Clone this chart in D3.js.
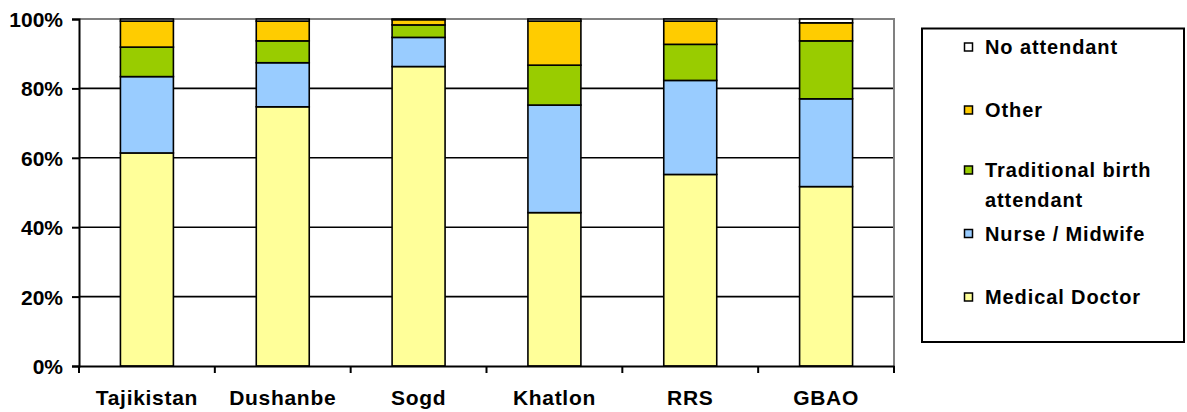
<!DOCTYPE html>
<html>
<head>
<meta charset="utf-8">
<script src="https://cdn.jsdelivr.net/npm/d3@7"></script>
<style>
  html, body { margin: 0; padding: 0; background: #fff; }
  svg { display: block; }
  text { font-family: "Liberation Sans", Arial, sans-serif; font-weight: bold; fill: #000; }
</style>
</head>
<body>
<svg id="chart" width="1187" height="412"></svg>
<script>
// Regions shown along the x axis
const regions = ["Tajikistan", "Dushanbe", "Sogd", "Khatlon", "RRS", "GBAO"];

// Share of births (%) by type of attendant, one array per series
const medicalDoctor = [61.4, 74.7, 86.3, 44.2, 55.2, 51.7];
const nurseMidwife  = [22.0, 12.7,  8.4, 31.0, 27.1, 25.3];
const traditional   = [ 8.5,  6.3,  3.6, 11.5, 10.4, 16.7];
const other         = [ 7.5,  5.7,  1.5, 12.7,  6.7,  5.2];
const noAttendant   = [ 0.6,  0.6,  0.2,  0.6,  0.6,  1.1];

const yTicks = [0, 20, 40, 60, 80, 100];

// Series in stacking order (bottom to top)
const seriesKeys = ["Medical Doctor", "Nurse / Midwife", "Traditional birth attendant", "Other", "No attendant"];
const seriesValues = [medicalDoctor, nurseMidwife, traditional, other, noAttendant];
const colors = ["#FFFF99", "#99CCFF", "#99CC00", "#FFCC00", "#FFFFFF"];

const rows = regions.map((r, i) => {
  const row = { region: r };
  seriesKeys.forEach((k, j) => row[k] = seriesValues[j][i]);
  return row;
});

const svg = d3.select("#chart");
const plotLeft = 79, plotRight = 894, plotTop = 19, plotBottom = 366;

const x = d3.scaleBand().domain(regions).range([plotLeft, plotRight])
  .paddingInner(0.61).paddingOuter(0.305);
const y = d3.scaleLinear().domain([0, 100]).range([plotBottom, plotTop]);
const color = d3.scaleOrdinal().domain(seriesKeys).range(colors);

// Horizontal gridlines
svg.append("g").selectAll("line")
  .data(yTicks.filter(t => t > 0 && t < 100))
  .join("line")
  .attr("x1", plotLeft).attr("x2", plotRight)
  .attr("y1", d => y(d)).attr("y2", d => y(d))
  .attr("stroke", "#000").attr("stroke-width", 1.6);

// Plot frame: top and right edges in grey
svg.append("path")
  .attr("d", `M${plotLeft},${y(100)}H${plotRight}V${plotBottom}`)
  .attr("fill", "none").attr("stroke", "#808080").attr("stroke-width", 2);

// Stacked bars
const stacked = d3.stack().keys(seriesKeys)(rows);
svg.append("g").selectAll("g")
  .data(stacked)
  .join("g")
  .attr("fill", d => color(d.key))
  .selectAll("rect")
  .data(d => d)
  .join("rect")
  .attr("x", d => x(d.data.region))
  .attr("width", x.bandwidth())
  .attr("y", d => y(d[1]))
  .attr("height", d => y(d[0]) - y(d[1]))
  .attr("stroke", "#000").attr("stroke-width", 1.6);

// Y axis
const yAxis = svg.append("g")
  .attr("transform", `translate(${plotLeft},0)`)
  .call(d3.axisLeft(y).tickValues(yTicks).tickFormat(d => d + "%").tickSize(7).tickPadding(9));
yAxis.select(".domain").attr("stroke", "#000").attr("stroke-width", 2);
yAxis.selectAll(".tick line").attr("stroke", "#000").attr("stroke-width", 2);
yAxis.selectAll(".tick text").style("font-size", "21px").attr("dy", "0.36em");

// X axis with ticks on category boundaries
const xAxis = svg.append("g")
  .attr("transform", `translate(0,${plotBottom})`)
  .call(d3.axisBottom(x).tickSize(0).tickPadding(24));
xAxis.select(".domain").attr("stroke", "#000").attr("stroke-width", 2);
xAxis.selectAll(".tick text").style("font-size", "21px").style("letter-spacing", "0.7px");
const step = x.step();
const boundaries = d3.range(regions.length + 1).map(i => plotLeft + i * step);
svg.append("g").selectAll("line")
  .data(boundaries)
  .join("line")
  .attr("x1", d => d).attr("x2", d => d)
  .attr("y1", plotBottom).attr("y2", plotBottom + 7)
  .attr("stroke", "#000").attr("stroke-width", 2);

// Legend
const legend = svg.append("g");
legend.append("rect")
  .attr("x", 922).attr("y", 28.5).attr("width", 262).attr("height", 313.5)
  .attr("fill", "#fff").attr("stroke", "#000").attr("stroke-width", 2);

const legendItems = [
  { key: "No attendant", lines: ["No attendant"], baseline: 54 },
  { key: "Other", lines: ["Other"], baseline: 117 },
  { key: "Traditional birth attendant", lines: ["Traditional birth", "attendant"], baseline: 177 },
  { key: "Nurse / Midwife", lines: ["Nurse / Midwife"], baseline: 240.5 },
  { key: "Medical Doctor", lines: ["Medical Doctor"], baseline: 304 }
];

const item = legend.selectAll("g.item").data(legendItems).join("g").attr("class", "item");
item.append("rect")
  .attr("x", 964.5).attr("y", d => d.baseline - 11)
  .attr("width", 8).attr("height", 8)
  .attr("fill", d => color(d.key))
  .attr("stroke", "#000").attr("stroke-width", 1.5);
item.append("text")
  .attr("x", 985).attr("y", d => d.baseline)
  .style("font-size", "20px").style("letter-spacing", "0.9px")
  .selectAll("tspan")
  .data(d => d.lines)
  .join("tspan")
  .attr("x", 985)
  .attr("dy", (d, i) => i === 0 ? 0 : 30)
  .text(d => d);
</script>
</body>
</html>
